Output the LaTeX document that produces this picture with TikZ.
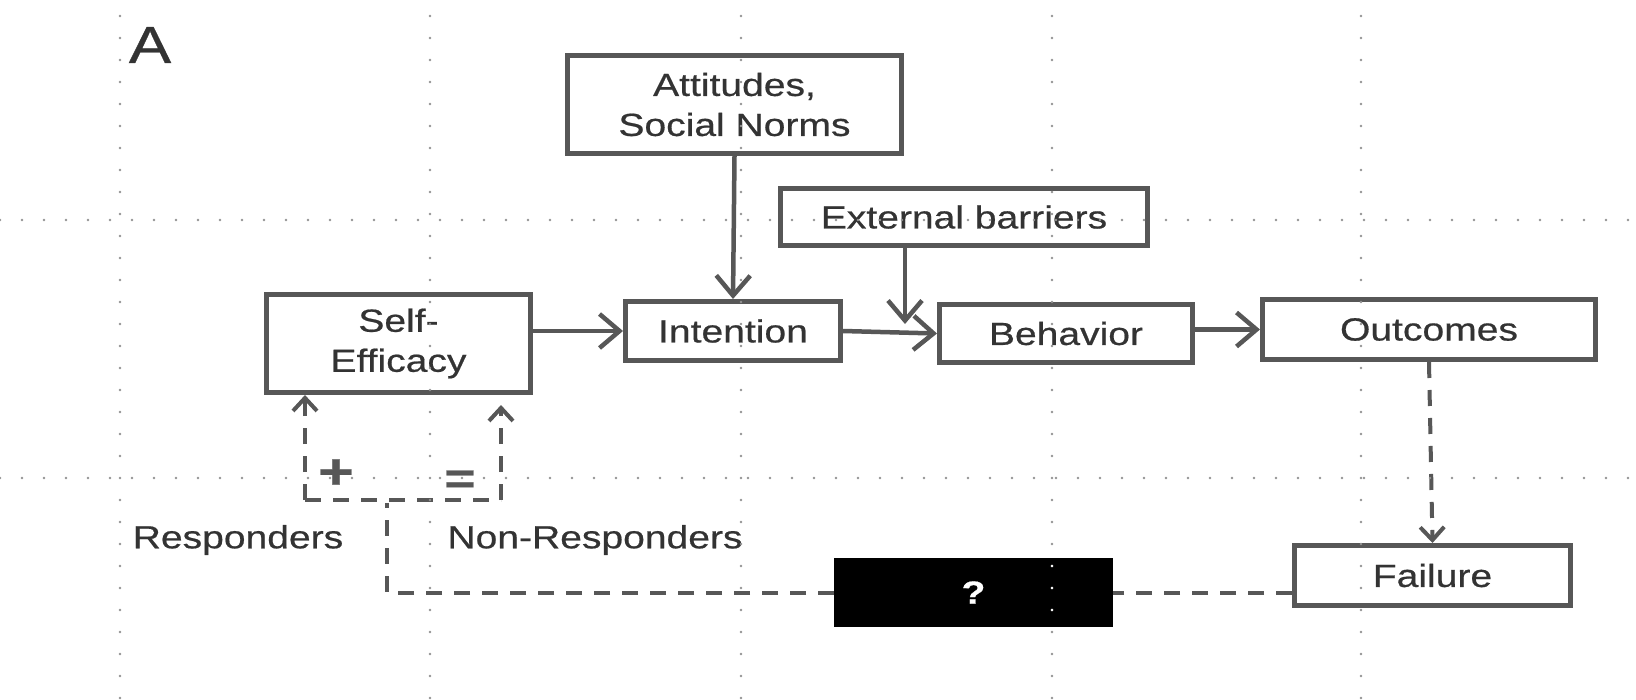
\documentclass[tikz,border=0pt]{standalone}
\usepackage{fontspec}
\setmainfont{Liberation Sans}[FakeStretch=1.22, FakeBold=0.6]
\usetikzlibrary{arrows.meta}
\definecolor{ln}{HTML}{575757}
\definecolor{tx}{HTML}{333333}
\begin{document}
\begin{tikzpicture}[x=1pt,y=-1pt,
  box/.style={draw=ln, line width=5pt, fill=white, text=tx, align=center, inner sep=0pt,
    font=\fontsize{32}{40}\selectfont},
  arr/.style={draw=ln, line width=4.5pt, -{Straight Barb[length=20pt,width=34pt]}},
  dsh/.style={draw=ln, line width=4pt, dash pattern=on 16pt off 12pt},
  darr/.style={dsh, -{Straight Barb[length=13pt,width=24pt]}},
  lbl/.style={text=tx, inner sep=0pt, font=\fontsize{32}{40}\selectfont},
  gridline/.style={gray!85, line width=2.8pt, line cap=round, dash pattern=on 0pt off 22pt}
]
\useasboundingbox[fill=white] (0,0) rectangle (1636,699);

% nodes
\node[box, minimum width=334pt, minimum height=98pt] (att) at (734.5,104.5) {Attitudes,\\Social Norms};
\node[box, minimum width=367pt, minimum height=57pt] (ext) at (964,217) {External barriers};
\node[box, minimum width=264pt, minimum height=98pt] (self) at (398.5,343.5) {Self-\\Efficacy};
\node[box, minimum width=215pt, minimum height=59pt] (int) at (733,331) {Intention};
\node[box, minimum width=253pt, minimum height=58pt] (beh) at (1066,333.5) {Behavior};
\node[box, minimum width=333pt, minimum height=60pt] (out) at (1429,329.5) {Outcomes};
\node[box, minimum width=276pt, minimum height=60pt] (fail) at (1432.5,575.5) {Failure};
\node[box, draw=black, fill=black, text=white, minimum width=274pt, minimum height=64pt,
  font=\fontsize{32}{40}\selectfont\bfseries] (q) at (973.5,592.5) {?};

\node[text=tx, inner sep=0pt, font=\fontsize{52}{60}\selectfont] (lblA) at (150,45) {A};
\node[lbl] (resp) at (238,540) {Responders};
\node[lbl] (nonresp) at (595,540) {Non-Responders};
\node[lbl, text=ln, font=\fontsize{50}{50}\selectfont\bfseries] (plus) at (336,474) {+};
\node[lbl, text=ln, font=\fontsize{44}{44}\selectfont\bfseries] (minus) at (460,482) {=};

% coordinates
\coordinate (extend) at (905,324);
\coordinate (jl) at (305,500);
\coordinate (jr) at (501,500);
\coordinate (jm) at (387,503);

% solid arrows
\draw[arr] (self.east |- int.west) -- (int.west);
\draw[arr] (att.south) -- (int.north);
\draw[arr] (int.east) -- (beh.west);
\draw[arr] (ext.south -| extend) -- (extend);
\draw[arr] (beh.east |- out.west) -- (out.west);

% dashed connectors
\draw[darr] (out.south) -- (fail.north);
\draw[dsh] (fail.west |- q.east) -- (q.east);
\draw[dsh] (q.west) -| (jm);
\draw[dsh] (jl) -- (jr);
\draw[darr] (jl) -- (jl |- self.south);
\draw[darr] (jr) -- ([yshift=-10pt]jr |- self.south);

% dotted grid (on top)
\foreach \gx in {120,430,741,1052,1361} \draw[gridline] (\gx,16) -- (\gx,699);
\foreach \gy in {220,478} \draw[gridline] (0,\gy) -- (1636,\gy);
\begin{scope}
  \clip (q.south west) rectangle (q.north east);
  \draw[gridline, white] (1052,16) -- (1052,699);
\end{scope}
\end{tikzpicture}
\end{document}
